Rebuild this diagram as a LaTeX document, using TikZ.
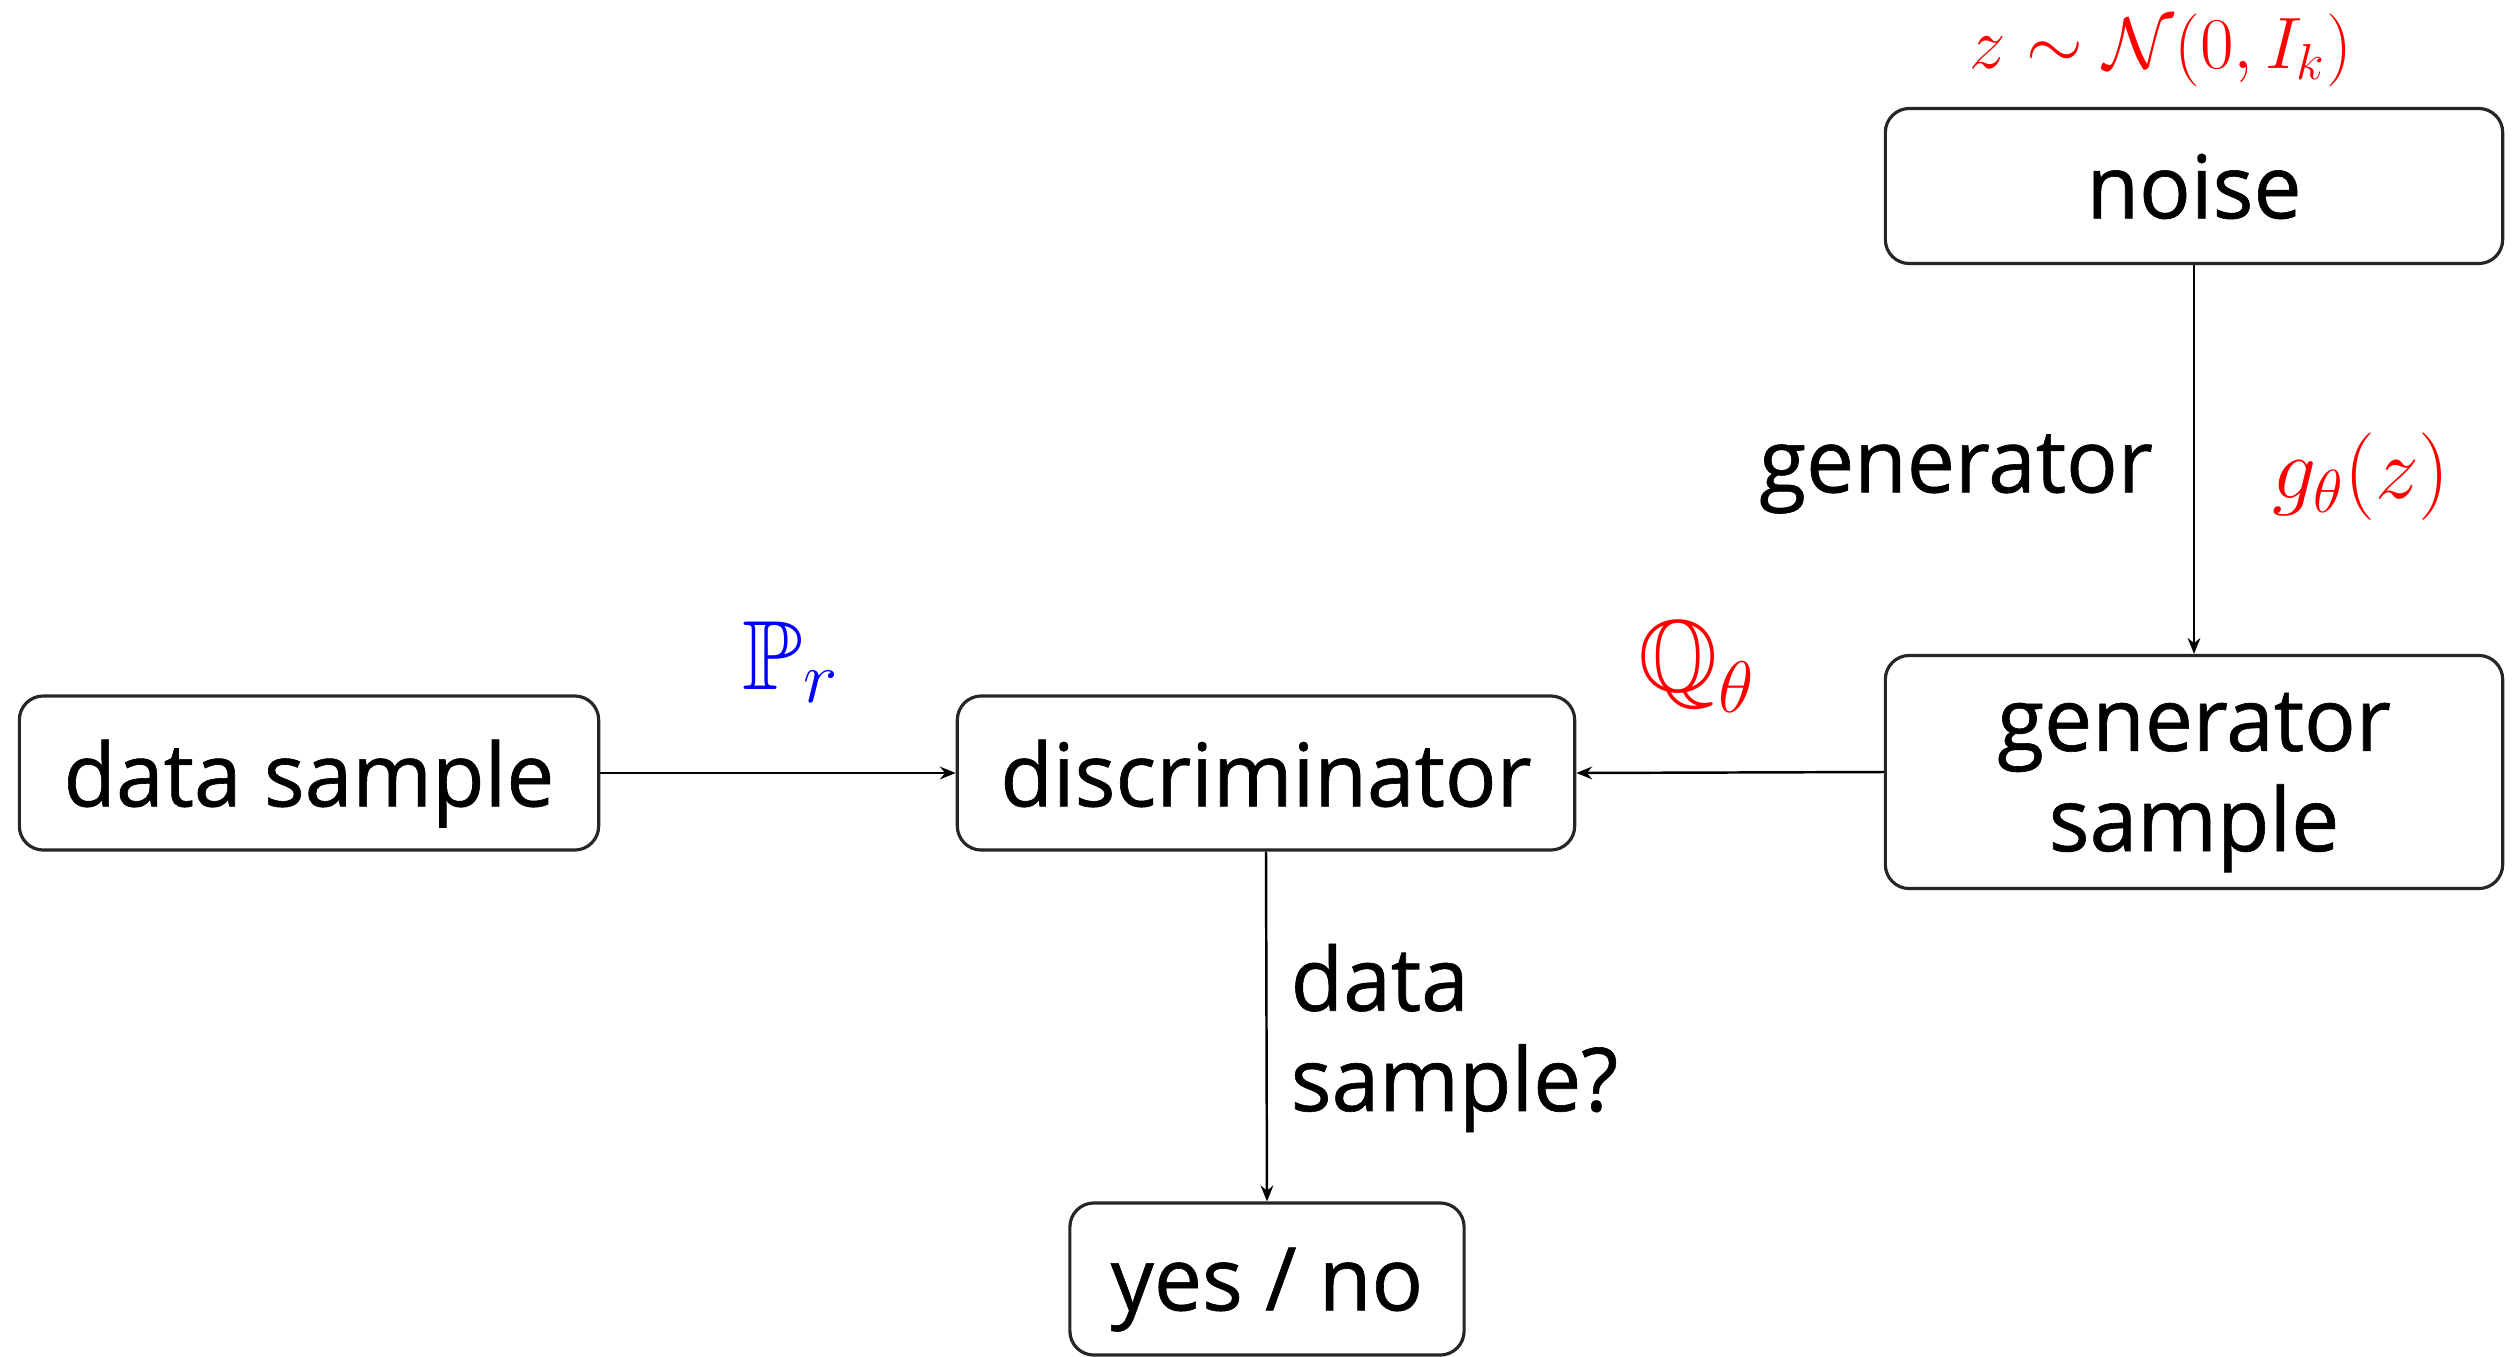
\documentclass[tikz,border=0pt]{standalone}
\usepackage{amssymb}
\usepackage{fontspec}
\newfontfamily\boxfont[FakeStretch=0.975,FakeBold=0.7]{Open Sans}
\usetikzlibrary{arrows.meta}
\begin{document}
\begin{tikzpicture}[x=0.01cm,y=-0.01cm,
  block/.style={draw=black!85, line width=0.9pt, rounded corners=0.24cm,
    inner sep=0pt, align=center, text depth=0pt,
    font=\boxfont\fontsize{25}{28.5}\selectfont},
  flow/.style={line width=0.7pt, -{Stealth[length=4.5pt,width=3.6pt]}},
  lbl/.style={inner sep=0pt, font=\boxfont\fontsize{25}{28.5}\selectfont}
]
\useasboundingbox (0,0) rectangle (2520,1357);

% boxes
\node[block, minimum width=6.17cm, minimum height=1.55cm] (noise) at (2194,186) {noise};
\node[block, minimum width=6.17cm, minimum height=2.33cm, text depth=-1.5pt] (gen) at (2194,772) {generator\\sample};
\node[block, minimum width=6.17cm, minimum height=1.54cm] (disc) at (1266,773) {discriminator};
\node[block, minimum width=5.79cm, minimum height=1.54cm] (data) at (309,773) {data sample};
\node[block, minimum width=3.94cm, minimum height=1.52cm] (yesno) at (1267,1279) {yes / no};

% connectors
\draw[flow] (noise.south) -- (gen.north);
\draw[flow] (gen.west) -- (disc.east);
\draw[flow] (data.east) -- (disc.west);
\draw[flow] (disc.south) -- (yesno.north);

% labels
\node[lbl] (genlbl) at (1956,474) {generator};
\node[lbl, anchor=west, align=left] (asklbl) at (1290,1038) {data\\sample?};
\node[text=red, inner sep=0pt, font=\fontsize{20}{24}\selectfont] (zlbl) at (2161,50) {$z \sim \mathcal{N}(0, I_k)$};
\node[text=red, inner sep=0pt, font=\fontsize{23}{27}\selectfont] (glbl) at (2361,477) {$g_\theta(z)$};
\node[text=red, inner sep=0pt, font=\fontsize{29}{34}\selectfont] (qlbl) at (1697,667) {$\mathbb{Q}_\theta$};
\node[text=blue, inner sep=0pt, font=\fontsize{28}{33}\selectfont] (plbl) at (791,662) {$\mathbb{P}_r$};
\end{tikzpicture}
\end{document}
